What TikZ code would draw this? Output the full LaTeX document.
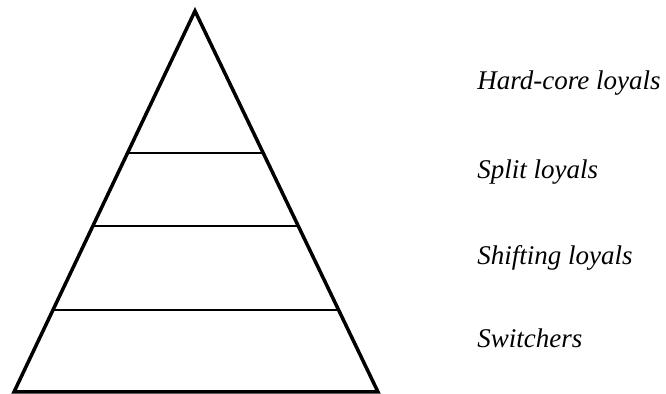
\documentclass[tikz,border=0pt]{standalone}
\usepackage{fontspec}
\setmainfont{Liberation Serif}
\usetikzlibrary{calc}
\tikzset{
  layer/.style={line width=1pt},
  tier/.style={anchor=base west,inner sep=0pt,font=\fontsize{13.5}{16}\selectfont\itshape}
}
\begin{document}
\begin{tikzpicture}[x=0.5pt,y=-0.5pt]
  \useasboundingbox (0,0) rectangle (666,394);
  \coordinate (apex) at (195,11);
  \coordinate (bl) at (14,392);
  \coordinate (br) at (378,392);
  \draw[line width=1.75pt,line join=miter] (apex) -- (bl) -- (br) -- cycle;
  \foreach \i/\t in {1/0.3727,2/0.5643,3/0.7848}
    \draw[layer] ($(apex)!\t!(bl)$) coordinate (l\i) -- ($(apex)!\t!(br)$) coordinate (r\i);
  \foreach \n/\y/\label in {hard/90/Hard-core loyals,split/179/Split loyals,shift/265/Shifting loyals,switch/348/Switchers}
    \node[tier] (\n) at (477,\y) {\label};
\end{tikzpicture}
\end{document}
